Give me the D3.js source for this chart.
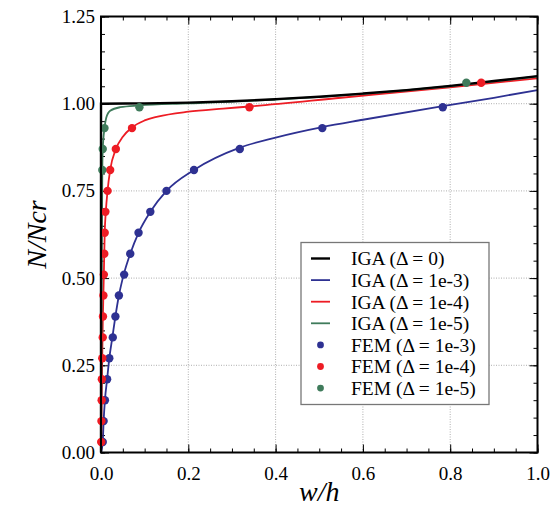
<!DOCTYPE html>
<html>
<head>
<meta charset="utf-8">
<script src="https://cdn.jsdelivr.net/npm/d3@7"></script>
<style>
body { margin: 0; background: #fff; }
text { font-family: "Liberation Serif", "DejaVu Serif", serif; fill: #000; }
</style>
</head>
<body>
<script>
// load levels N/Ncr used by the FEM runs
var blueY = [0.03, 0.09, 0.15, 0.21, 0.27, 0.33, 0.39, 0.45, 0.51, 0.57, 0.63, 0.69, 0.75, 0.81, 0.87, 0.93, 0.99];
var blueX = [0.004, 0.006, 0.009, 0.014, 0.019, 0.027, 0.033, 0.041, 0.053, 0.067, 0.086, 0.113, 0.150, 0.213, 0.318, 0.507, 0.783];

var redY = [0.03, 0.09, 0.15, 0.21, 0.27, 0.33, 0.39, 0.45, 0.51, 0.57, 0.63, 0.69, 0.75, 0.81, 0.87, 0.93, 0.99, 1.06];
var redX = [0.0005, 0.001, 0.0015, 0.002, 0.003, 0.004, 0.0045, 0.0055, 0.0065, 0.0075, 0.0085, 0.010, 0.015, 0.021, 0.034, 0.071, 0.340, 0.871];

var greenY = [0.81, 0.87, 0.93, 0.99, 1.06];
var greenX = [0.003, 0.004, 0.008, 0.088, 0.837];

// IGA curves [w/h, N/Ncr]
var igaPerfect = [[0, 0], [0, 1], [0.1, 1.001], [0.2, 1.003], [0.3, 1.007], [0.4, 1.013], [0.5, 1.02], [0.6, 1.029], [0.7, 1.039], [0.8, 1.051], [0.9, 1.065], [1.0, 1.079]];
var iga3 = [[0, 0], [0.004, 0.03], [0.006, 0.09], [0.009, 0.15], [0.014, 0.21], [0.019, 0.27], [0.026, 0.33], [0.033, 0.39], [0.041, 0.45], [0.052, 0.51], [0.067, 0.57], [0.086, 0.63], [0.113, 0.69], [0.150, 0.75], [0.213, 0.81], [0.318, 0.874], [0.4, 0.903], [0.507, 0.933], [0.6, 0.954], [0.783, 0.993], [0.9, 1.017], [1.0, 1.039]];
var iga4 = [[0, 0], [0.001, 0.1], [0.002, 0.21], [0.004, 0.37], [0.0065, 0.51], [0.0085, 0.63], [0.011, 0.69], [0.015, 0.75], [0.021, 0.81], [0.034, 0.87], [0.05, 0.905], [0.071, 0.932], [0.1, 0.952], [0.13, 0.963], [0.2, 0.977], [0.28, 0.986], [0.34, 0.992], [0.55, 1.017], [0.8, 1.047], [1.0, 1.073]];
var iga5 = [[0, 0], [0.001, 0.3], [0.002, 0.6], [0.003, 0.81], [0.004, 0.87], [0.008, 0.93], [0.012, 0.96], [0.021, 0.98], [0.044, 0.99], [0.088, 0.995], [0.2, 1.001], [0.4, 1.012], [0.6, 1.028], [0.8, 1.05], [1.0, 1.078]];

var xTicks = [0, 0.2, 0.4, 0.6, 0.8, 1.0];
var yTicks = [0, 0.25, 0.5, 0.75, 1.0, 1.25];

var legendLabels = ["IGA (\u0394 = 0)", "IGA (\u0394 = 1e-3)", "IGA (\u0394 = 1e-4)", "IGA (\u0394 = 1e-5)",
    "FEM (\u0394 = 1e-3)", "FEM (\u0394 = 1e-4)", "FEM (\u0394 = 1e-5)"];

var cBlack = "#000000", cBlue = "#2e3192", cRed = "#ed1c24", cGreen = "#3f7b5b";

var mLeft = 101, mTop = 16.5, w = 436.5, h = 436;

var svg = d3.select("body").append("svg")
    .attr("width", 555)
    .attr("height", 515);

var x = d3.scaleLinear().domain([0, 1]).range([0, w]);
var y = d3.scaleLinear().domain([0, 1.25]).range([h, 0]);

var g = svg.append("g").attr("transform", "translate(" + mLeft + "," + mTop + ")");

// dotted grid
g.selectAll(".gx").data(xTicks.slice(1, -1)).enter().append("line")
    .attr("x1", function(d) { return x(d); }).attr("x2", function(d) { return x(d); })
    .attr("y1", 0).attr("y2", h)
    .attr("stroke", "#999").attr("stroke-width", 0.8).attr("stroke-dasharray", "1,1.5");
g.selectAll(".gy").data(yTicks.slice(1, -1)).enter().append("line")
    .attr("y1", function(d) { return y(d); }).attr("y2", function(d) { return y(d); })
    .attr("x1", 0).attr("x2", w)
    .attr("stroke", "#999").attr("stroke-width", 0.8).attr("stroke-dasharray", "1,1.5");

var xMinor = d3.range(0, 1.0001, 0.05);
var yMinor = d3.range(0, 1.2501, 0.05);

// axes with inward ticks on all four sides
function styleAxis(sel) {
    sel.selectAll("path").remove();
    sel.selectAll("line").attr("stroke", "#000").attr("stroke-width", 1);
    sel.selectAll("text").attr("font-size", "19px");
}

g.append("g").attr("transform", "translate(0," + h + ")")
    .call(d3.axisBottom(x).tickValues(xMinor).tickSize(-4).tickFormat(""))
    .call(styleAxis);
g.append("g").attr("transform", "translate(0," + h + ")")
    .call(d3.axisBottom(x).tickValues(xTicks).tickSize(-8).tickPadding(14).tickFormat(d3.format(".1f")))
    .call(styleAxis);
g.append("g")
    .call(d3.axisTop(x).tickValues(xMinor).tickSize(-4).tickFormat(""))
    .call(styleAxis);
g.append("g")
    .call(d3.axisTop(x).tickValues(xTicks).tickSize(-8).tickFormat(""))
    .call(styleAxis);
g.append("g")
    .call(d3.axisLeft(y).tickValues(yMinor).tickSize(-4).tickFormat(""))
    .call(styleAxis);
g.append("g")
    .call(d3.axisLeft(y).tickValues(yTicks).tickSize(-8).tickPadding(6).tickFormat(d3.format(".2f")))
    .call(styleAxis);
g.append("g").attr("transform", "translate(" + w + ",0)")
    .call(d3.axisRight(y).tickValues(yMinor).tickSize(-4).tickFormat(""))
    .call(styleAxis);
g.append("g").attr("transform", "translate(" + w + ",0)")
    .call(d3.axisRight(y).tickValues(yTicks).tickSize(-8).tickFormat(""))
    .call(styleAxis);

var line = d3.line()
    .x(function(d) { return x(d[0]); })
    .y(function(d) { return y(d[1]); })
    .curve(d3.curveMonotoneX);

var lineSeries = [
    { data: iga3, color: cBlue, width: 1.8 },
    { data: iga4, color: cRed, width: 1.8 },
    { data: iga5, color: cGreen, width: 1.8 },
    { data: igaPerfect, color: cBlack, width: 2.4 }
];

g.selectAll(".curve").data(lineSeries).enter().append("path")
    .attr("d", function(d) { return line(d.data); })
    .attr("fill", "none")
    .attr("stroke", function(d) { return d.color; })
    .attr("stroke-width", function(d) { return d.width; });

var pointSeries = [
    { xs: blueX, ys: blueY, color: cBlue },
    { xs: redX, ys: redY, color: cRed },
    { xs: greenX, ys: greenY, color: cGreen }
];

pointSeries.forEach(function(s) {
    g.selectAll(null).data(s.xs).enter().append("circle")
        .attr("cx", function(d) { return x(d); })
        .attr("cy", function(d, i) { return y(s.ys[i]); })
        .attr("r", 4.2)
        .attr("fill", s.color);
});

// frame
g.append("rect")
    .attr("width", w).attr("height", h)
    .attr("fill", "none").attr("stroke", "#000").attr("stroke-width", 2);

// axis titles
svg.append("text")
    .attr("x", mLeft + w / 2).attr("y", 501)
    .attr("text-anchor", "middle")
    .attr("font-size", "28px").attr("font-style", "italic")
    .text("w/h");
svg.append("text")
    .attr("transform", "translate(46," + (mTop + h / 2) + ") rotate(-90)")
    .attr("text-anchor", "middle")
    .attr("font-size", "28px").attr("font-style", "italic")
    .text("N/Ncr");

// legend
var lg = svg.append("g").attr("transform", "translate(301,242.5)");
lg.append("rect")
    .attr("width", 188).attr("height", 162)
    .attr("fill", "#fff").attr("stroke", "#777").attr("stroke-width", 1.3);

var legendColors = [cBlack, cBlue, cRed, cGreen, cBlue, cRed, cGreen];

var rows = lg.selectAll(".row").data(legendLabels).enter().append("g")
    .attr("transform", function(d, i) { return "translate(0," + (16 + i * 21.6) + ")"; });

rows.filter(function(d, i) { return i < 4; }).append("line")
    .attr("x1", 10).attr("x2", 29)
    .attr("stroke", function(d, i) { return legendColors[i]; })
    .attr("stroke-width", function(d, i) { return i == 0 ? 2.4 : 1.8; });
rows.filter(function(d, i) { return i >= 4; }).append("circle")
    .attr("cx", 19.5).attr("r", 3.4)
    .attr("fill", function(d, i) { return legendColors[i + 4]; });
rows.append("text")
    .attr("x", 50).attr("dy", "0.35em")
    .attr("font-size", "19.5px")
    .text(function(d) { return d; });
</script>
</body>
</html>
